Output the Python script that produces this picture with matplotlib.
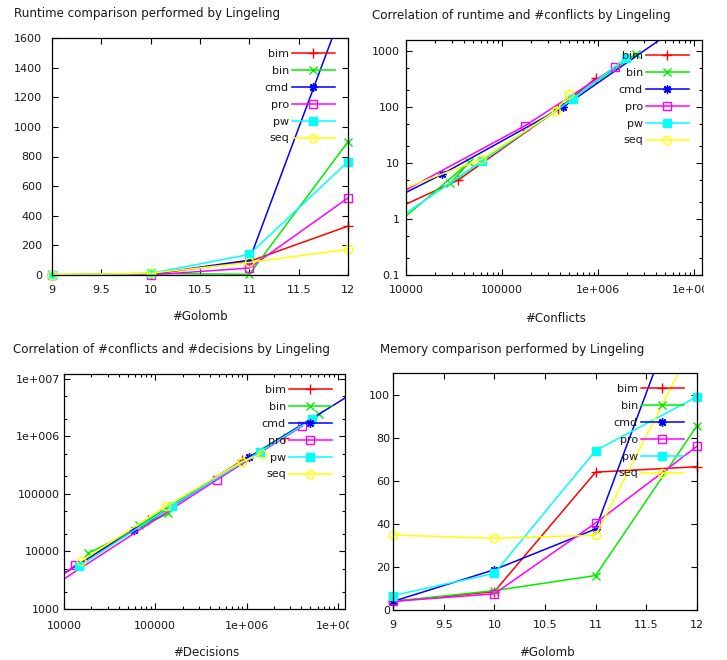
import numpy as np
import matplotlib
matplotlib.use("Agg")
import matplotlib.pyplot as plt
from matplotlib.ticker import LogLocator, NullFormatter, FuncFormatter, MultipleLocator
from matplotlib.patches import Rectangle

plt.rcParams['font.family'] = ['DejaVu Sans']
plt.rcParams['font.size'] = 8

W, H = 727, 660

# data per solver, Golomb rulers 9..12
golomb = [9, 10, 11, 12]
solvers = ['bim', 'bin', 'cmd', 'pro', 'pw', 'seq']

runtime = {
    'bim': [0.71, 5.0, 92, 330],
    'bin': [1.0, 10.4, 4.4, 900],
    'cmd': [0.74, 6.3, 100, 1886],
    'pro': [1.5, 0.5, 47, 520],
    'pw':  [0.63, 10.9, 139, 765],
    'seq': [2.8, 11.8, 85, 173],
}
conflicts = {
    'bim': [3000, 35000, 380000, 940000],
    'bin': [9200, 45600, 29000, 2.46e6],
    'cmd': [2000, 23500, 427000, 4.97e6],
    'pro': [5700, 1300, 174000, 1.5e6],
    'pw':  [5500, 62000, 540000, 1.95e6],
    'seq': [6700, 60700, 360000, 500000],
}
decisions = {
    'bim': [7200, 84000, 900000, 2.6e6],
    'bin': [18200, 139000, 67000, 6.3e6],
    'cmd': [4700, 59000, 1.07e6, 1.3e7],
    'pro': [13200, 4000, 470000, 4.1e6],
    'pw':  [14600, 152000, 1.41e6, 5.2e6],
    'seq': [15300, 132000, 890000, 1.49e6],
}
memory = {
    'bim': [4, 8.5, 64, 66.5],
    'bin': [4, 9, 16, 85.5],
    'cmd': [4, 18.7, 37.6, 164],
    'pro': [4, 7.5, 40.4, 76],
    'pw':  [6.7, 17, 74, 99],
    'seq': [34.8, 33.3, 34.7, 127],
}

colors = {'bim': '#ff0000', 'bin': '#00ee00', 'cmd': '#0000ff',
          'pro': '#ff00ff', 'pw': '#00ffff', 'seq': '#ffff00'}
marks = {'bim': dict(marker='+', markersize=6.5), 'bin': dict(marker='x', markersize=5.5),
         'cmd': dict(marker=(8, 2, 0), markersize=6),
         'pro': dict(marker='s', markerfacecolor='none', markersize=5.5),
         'pw': dict(marker='s', markersize=5.5),
         'seq': dict(marker='o', markerfacecolor='none', markersize=6)}

txt = '#1a1a1a'
fig = plt.figure(figsize=(W / 100, H / 100), dpi=100)


def make_ax(l, t, r, b):
    return fig.add_axes([l / W, 1 - b / H, (r - l) / W, (b - t) / H])


def gp_fmt(v, pos):
    if v >= 1e6:
        return "1e+%03d" % round(np.log10(v))
    return "%g" % v


def style(ax, xpad, ypad, logx=False, logy=False):
    for s in ax.spines.values():
        s.set_linewidth(0.9)
        s.set_color('black')
    ax.tick_params(which='both', direction='in', top=True, right=True,
                   colors='black', labelcolor=txt, labelsize=8)
    ax.tick_params(which='major', length=4, width=0.8)
    ax.tick_params(which='minor', length=2.2, width=0.8)
    ax.tick_params(axis='x', pad=xpad)
    ax.tick_params(axis='y', pad=ypad)
    if logx:
        ax.set_xscale('log')
        ax.xaxis.set_major_locator(LogLocator(base=10, subs=(1.0,)))
        ax.xaxis.set_minor_locator(LogLocator(base=10, subs=np.arange(2, 10)))
        ax.xaxis.set_major_formatter(FuncFormatter(gp_fmt))
        ax.xaxis.set_minor_formatter(NullFormatter())
    if logy:
        ax.set_yscale('log')
        ax.yaxis.set_major_locator(LogLocator(base=10, subs=(1.0,)))
        ax.yaxis.set_minor_locator(LogLocator(base=10, subs=(2.0, 5.0)))
        ax.yaxis.set_major_formatter(FuncFormatter(gp_fmt))
        ax.yaxis.set_minor_formatter(NullFormatter())


def draw(ax, xs, ys, xlim, ylim, box):
    handles = []
    for s in solvers:
        x = np.array(xs[s], dtype=float)
        y = np.array(ys[s], dtype=float)
        ln, = ax.plot(x, y, color=colors[s], lw=1.1)
        m = (x >= xlim[0]) & (x <= xlim[1] * 1.001) & (y >= ylim[0]) & (y <= ylim[1] * 1.001)
        pt, = ax.plot(x[m], y[m], ls='none', color=colors[s],
                      markeredgewidth=1.0, clip_on=False, **marks[s])
        handles.append((ln, pt))
    ax.set_xlim(*xlim)
    ax.set_ylim(*ylim)
    l, t, r, b = box
    ax.legend(handles, solvers, loc='upper right', markerfirst=False, frameon=False,
              bbox_to_anchor=(1 - 13 / (r - l), 1 - 11 / (b - t)),
              borderaxespad=0, borderpad=0, handlelength=3.9, handletextpad=0.25,
              labelspacing=0.62, numpoints=1, fontsize=8, labelcolor=txt)


# top left: runtime vs golomb
b1 = (52, 38, 348, 275)
ax1 = make_ax(*b1)
style(ax1, 7, 7)
draw(ax1, {s: golomb for s in solvers}, runtime, (9, 12), (0, 1600), b1)
ax1.xaxis.set_major_locator(MultipleLocator(0.5))
ax1.yaxis.set_major_locator(MultipleLocator(200))
ax1.xaxis.set_major_formatter(FuncFormatter(lambda v, p: "%g" % v))

# top right: runtime vs conflicts
b2 = (406, 40, 702, 275)
ax2 = make_ax(*b2)
style(ax2, 7, 4.5, logx=True, logy=True)
draw(ax2, conflicts, runtime, (1e4, 1.2e7), (0.1, 1600), b2)

# bottom left: conflicts vs decisions
b3 = (64, 374, 345, 609)
ax3 = make_ax(*b3)
style(ax3, 8.5, 3, logx=True, logy=True)
draw(ax3, decisions, conflicts, (1e4, 1.2e7), (1000, 1.2e7), b3)

# bottom right: memory vs golomb
b4 = (393, 373, 697, 610)
ax4 = make_ax(*b4)
style(ax4, 7, 2)
draw(ax4, {s: golomb for s in solvers}, memory, (9, 12), (0, 110), b4)
ax4.xaxis.set_major_locator(MultipleLocator(0.5))
ax4.yaxis.set_major_locator(MultipleLocator(20))
ax4.xaxis.set_major_formatter(FuncFormatter(lambda v, p: "%g" % v))

# titles and axis labels
fig.text(14 / W, 1 - 13 / H, "Runtime comparison performed by Lingeling",
         va='center', ha='left', fontsize=8.6, color=txt)
fig.text(372 / W, 1 - 15 / H, "Correlation of runtime and #conflicts by Lingeling",
         va='center', ha='left', fontsize=8.6, color=txt)
fig.text(13 / W, 1 - 349 / H, "Correlation of #conflicts and #decisions by Lingeling",
         va='center', ha='left', fontsize=8.6, color=txt)
fig.text(380 / W, 1 - 350 / H, "Memory comparison performed by Lingeling",
         va='center', ha='left', fontsize=8.6, color=txt)

fig.text(200 / W, 1 - 317 / H, "#Golomb", va='center', ha='center', fontsize=8.5, color=txt)
fig.text(556 / W, 1 - 318 / H, "#Conflicts", va='center', ha='center', fontsize=8.5, color=txt)
fig.text(206 / W, 1 - 653 / H, "#Decisions", va='center', ha='center', fontsize=8.5, color=txt)
fig.text(547 / W, 1 - 653 / H, "#Golomb", va='center', ha='center', fontsize=8.5, color=txt)

# the panels were cut just past their right border
fig.add_artist(Rectangle((704 / W, 0), (W - 704) / W, 1, transform=fig.transFigure,
                         facecolor='white', edgecolor='none', zorder=10))
fig.add_artist(Rectangle((349 / W, 0), 12 / W, 1 - 600 / H, transform=fig.transFigure,
                         facecolor='white', edgecolor='none', zorder=10))

fig.savefig('out.png', dpi=100, facecolor='white')
